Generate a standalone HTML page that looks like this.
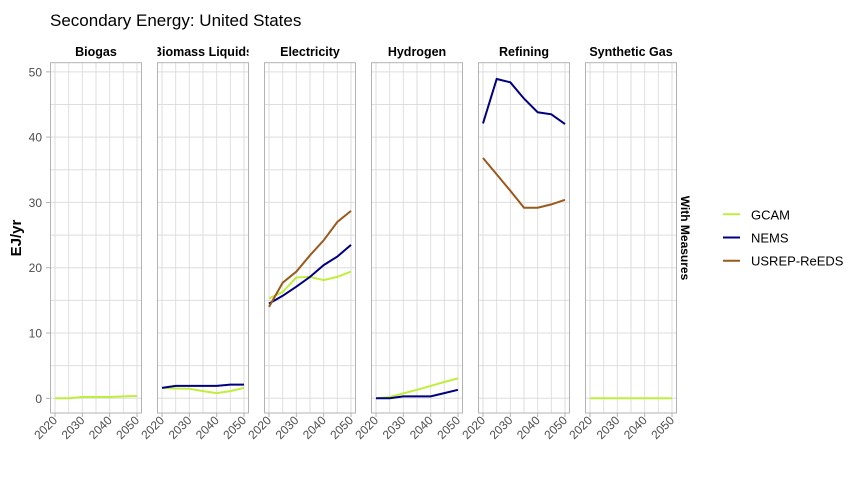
<!DOCTYPE html>
<html><head><meta charset="utf-8"><style>
body{margin:0;background:#fff;}
svg{display:block;font-family:"Liberation Sans",sans-serif;}
</style></head><body>
<svg id="chart" width="864" height="480"></svg>
<script>
const panels=["Biogas","Biomass Liquids","Electricity","Hydrogen","Refining","Synthetic Gas"];
const years=[2020,2025,2030,2035,2040,2045,2050];
const seriesNames=["GCAM","NEMS","USREP-ReEDS"];
const colors={"GCAM":"#c0ee3c","NEMS":"#000080","USREP-ReEDS":"#9a5a1e"};
const gcamVals={"Biogas":[0,0,0.2,0.2,0.2,0.3,0.35],"Biomass Liquids":[1.6,1.5,1.45,1.1,0.8,1.1,1.6],"Electricity":[15.3,16.3,18.5,18.6,18.1,18.6,19.4],"Hydrogen":[0,0.2,0.75,1.3,1.9,2.5,3.05],"Synthetic Gas":[0,0,0,0,0,0,0]};
const nemsVals={"Biomass Liquids":[1.6,1.9,1.9,1.9,1.9,2.1,2.1],"Electricity":[14.5,15.7,17.1,18.6,20.4,21.7,23.5],"Hydrogen":[0,0,0.3,0.3,0.3,0.8,1.3],"Refining":[42.1,48.9,48.4,45.9,43.8,43.5,42.0]};
const usrepVals={"Electricity":[14.0,17.7,19.4,21.9,24.2,27.0,28.7],"Refining":[36.8,34.3,31.8,29.2,29.2,29.7,30.4]};
const yTicks=[0,10,20,30,40,50];
const xTicks=[2020,2030,2040,2050];

const NS="http://www.w3.org/2000/svg";
const svg=document.getElementById('chart');
function mk(t,a,p){const e=document.createElementNS(NS,t);for(const k in a)e.setAttribute(k,a[k]);(p||svg).appendChild(e);return e;}
const pTop=62.7,pBot=413,pw=91,gap=16,left0=50.5;
const yMin=-2.25,yMax=51.4;
function ys(v){return pBot-(v-yMin)/(yMax-yMin)*(pBot-pTop);}
function xs(i,yr){const x0=left0+i*(pw+gap);return x0+4.5+(yr-2020)/30*(pw-9);}

let t=mk('text',{x:50,y:26,'font-size':17,fill:'#000'});t.textContent="Secondary Energy: United States";


t=mk('text',{transform:'translate(21,238) rotate(-90)','text-anchor':'middle','font-size':15,'font-weight':'bold'});t.textContent="EJ/yr";


yTicks.forEach(v=>{const l=mk('text',{x:42,y:ys(v)+4.5,'text-anchor':'end','font-size':12,fill:'#4d4d4d'});l.textContent=v;


mk('line',{x1:46,x2:50.5,y1:ys(v),y2:ys(v),stroke:'#b3b3b3'});});

panels.forEach((p,i)=>{
 const x0=left0+i*(pw+gap);
 const g=mk('g',{});
 
 
 mk('rect',{x:x0,y:pTop,width:pw,height:pBot-pTop,fill:'#fff'},g);
 for(let v=0;v<=50;v+=5)mk('line',{x1:x0,x2:x0+pw,y1:ys(v),y2:ys(v),stroke:'#dedede','stroke-width':1},g);
 for(let yr=2020;yr<=2050;yr+=5)mk('line',{x1:xs(i,yr),x2:xs(i,yr),y1:pTop,y2:pBot,stroke:'#dedede','stroke-width':1},g);
 const cp=mk('clipPath',{id:'c'+i},g);mk('rect',{x:x0,y:pTop-20,width:pw,height:pBot-pTop+20},cp);
 const lab=mk('text',{x:x0+pw/2,y:56,'text-anchor':'middle','font-size':12.5,'font-weight':'bold','clip-path':'url(#c'+i+')'},g);lab.textContent=p;
 
 
 [[gcamVals,"GCAM"],[nemsVals,"NEMS"],[usrepVals,"USREP-ReEDS"]].forEach(([obj,n])=>{
  if(!obj[p])return;
  const pts=obj[p].map((v,k)=>xs(i,years[k]).toFixed(1)+','+ys(v).toFixed(1)).join(' ');
  const pl=mk('polyline',{points:pts,fill:'none',stroke:colors[n],'stroke-width':2},g);
  
  
 });
 mk('rect',{x:x0,y:pTop,width:pw,height:pBot-pTop,fill:'none',stroke:'#b3b3b3','stroke-width':1},g);
 xTicks.forEach(yr=>{const x=xs(i,yr);mk('line',{x1:x,x2:x,y1:pBot,y2:pBot+4,stroke:'#b3b3b3'},g);
  const tl=mk('text',{transform:`translate(${x+3},${pBot+8}) rotate(-45)`,'text-anchor':'end','font-size':12,fill:'#4d4d4d'},g);tl.textContent=yr;
  
  });
});
t=mk('text',{transform:'translate(681,238) rotate(90)','text-anchor':'middle','font-size':12,'font-weight':'bold'});t.textContent="With Measures";


seriesNames.forEach((n,k)=>{const y=214.3+k*23.2;const g=mk('g',{});
 
 
 mk('line',{x1:723,x2:740,y1:y,y2:y,stroke:colors[n],'stroke-width':2},g);
 const l=mk('text',{x:751,y:y+5,'font-size':13},g);l.textContent=n;});
</script>
</body></html>
